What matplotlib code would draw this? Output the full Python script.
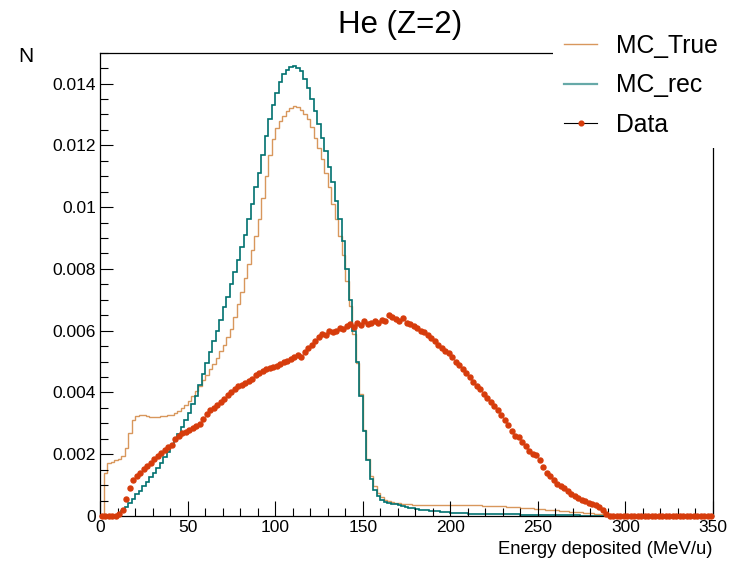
import numpy as np
import matplotlib
matplotlib.use("Agg")
import matplotlib.pyplot as plt
from matplotlib.lines import Line2D
from matplotlib.ticker import MultipleLocator

plt.rcParams["font.family"] = ["Liberation Sans", "DejaVu Sans"]

# ---- data (2 MeV/u bins from 0 to 350, values in units of 1e-3) ----
bin_edges = np.arange(0, 352, 2)

mc_true_e3 = [
    0.0, 1.4, 1.7, 1.75, 1.8,
    1.85, 1.95, 2.2, 2.7, 3.1,
    3.25, 3.28, 3.27, 3.25, 3.22,
    3.2, 3.22, 3.24, 3.25, 3.27,
    3.27, 3.33, 3.4, 3.5, 3.6,
    3.72, 3.88, 4.05, 4.22, 4.4,
    4.58, 4.75, 4.93, 5.12, 5.33,
    5.55, 5.78, 6.05, 6.45, 6.85,
    7.25, 7.7, 8.15, 8.6, 9.05,
    9.6, 10.3, 11.0, 11.7, 12.2,
    12.55, 12.8, 12.95, 13.1, 13.2,
    13.28, 13.25, 13.15, 13.0, 12.85,
    12.6, 12.25, 11.9, 11.55, 11.1,
    10.65, 10.1, 9.6, 9.05, 8.45,
    7.6, 6.8, 5.9, 4.95, 3.95,
    2.8, 1.85, 1.3, 0.98, 0.76,
    0.62, 0.52, 0.47, 0.44, 0.42,
    0.41, 0.40, 0.39, 0.38, 0.37,
    0.36, 0.35, 0.35, 0.35, 0.35,
    0.35, 0.36, 0.36, 0.37, 0.37,
    0.37, 0.37, 0.37, 0.37, 0.37,
    0.36, 0.36, 0.35, 0.35, 0.34,
    0.34, 0.33, 0.33, 0.32, 0.32,
    0.31, 0.30, 0.30, 0.29, 0.28,
    0.27, 0.27, 0.26, 0.25, 0.24,
    0.23, 0.22, 0.21, 0.20, 0.19,
    0.18, 0.17, 0.16, 0.15, 0.14,
    0.13, 0.12, 0.12, 0.11, 0.10,
    0.09, 0.08, 0.07, 0.06, 0.04,
] + [0.0] * 30

mc_rec_e3 = [
    0.0, 0.0, 0.0, 0.0, 0.0,
    0.05, 0.15, 0.28, 0.42, 0.55,
    0.7, 0.82, 0.96, 1.1, 1.25,
    1.4, 1.55, 1.72, 1.9, 2.08,
    2.25, 2.45, 2.65, 2.88, 3.1,
    3.35, 3.62, 3.9, 4.25, 4.6,
    4.95, 5.3, 5.65, 6.0, 6.35,
    6.75, 7.1, 7.5, 7.9, 8.3,
    8.7, 9.1, 9.6, 10.1, 10.65,
    11.1, 11.7, 12.3, 12.85, 13.3,
    13.7, 14.05, 14.3, 14.45, 14.55,
    14.58, 14.5, 14.4, 14.15, 13.85,
    13.5, 13.1, 12.7, 12.25, 11.8,
    11.3, 10.8, 10.2, 9.6, 8.9,
    8.0, 7.0, 6.0, 5.0, 3.9,
    2.75, 1.8, 1.2, 0.85, 0.65,
    0.52, 0.45, 0.42, 0.40, 0.38,
    0.36, 0.33, 0.30, 0.27, 0.25,
    0.23, 0.21, 0.20, 0.18, 0.17,
    0.16, 0.15, 0.14, 0.13, 0.12,
    0.11, 0.10, 0.10, 0.09, 0.09,
    0.08, 0.08, 0.07, 0.07, 0.07,
    0.06, 0.06, 0.06, 0.06, 0.05,
    0.05, 0.05, 0.05, 0.05, 0.05,
    0.04, 0.04, 0.04, 0.04, 0.04,
    0.04, 0.03, 0.03, 0.03, 0.03,
    0.03, 0.02, 0.02, 0.02, 0.02,
    0.02, 0.02, 0.01, 0.01, 0.01,
    0.01, 0.01, 0.01, 0.01, 0.0,
] + [0.0] * 30

data_e3 = [
    0.0, 0.0, 0.0, 0.0, 0.0,
    0.05, 0.2, 0.55, 0.9, 1.15,
    1.3, 1.4, 1.52, 1.62, 1.72,
    1.85, 1.95, 2.05, 2.15, 2.22,
    2.3, 2.5, 2.6, 2.68, 2.72,
    2.78, 2.85, 2.9, 2.97, 3.15,
    3.3, 3.42, 3.5, 3.6, 3.7,
    3.78, 3.92, 4.0, 4.1, 4.2,
    4.25, 4.3, 4.38, 4.45, 4.55,
    4.62, 4.7, 4.75, 4.8, 4.83,
    4.86, 4.92, 4.97, 5.02, 5.08,
    5.15, 5.2, 5.15, 5.32, 5.45,
    5.55, 5.65, 5.8, 5.9, 5.85,
    6.0, 5.95, 5.98, 6.1, 6.05,
    6.15, 6.2, 6.12, 6.25, 6.18,
    6.3, 6.22, 6.25, 6.3, 6.25,
    6.35, 6.3, 6.5, 6.45, 6.38,
    6.3, 6.4, 6.25, 6.2, 6.15,
    6.1, 6.0, 5.95, 5.85, 5.75,
    5.65, 5.55, 5.45, 5.35, 5.28,
    5.15, 5.0, 4.9, 4.75, 4.62,
    4.5, 4.35, 4.22, 4.1, 3.95,
    3.82, 3.7, 3.55, 3.42, 3.28,
    3.1, 2.95, 2.75, 2.6, 2.55,
    2.4, 2.25, 2.12, 2.0, 1.98,
    1.8, 1.6, 1.4, 1.28, 1.18,
    1.05, 0.98, 0.9, 0.8, 0.72,
    0.65, 0.58, 0.52, 0.48, 0.42,
    0.38, 0.35, 0.3, 0.18, 0.05,
] + [0.0] * 30

C_TRUE = "#d8975c"
C_REC = "#00716f"
C_DATA = "#d63c0c"

# ---- plotting ----
fig = plt.figure(figsize=(7.3, 5.61), dpi=100)
ax = fig.add_axes([0.137, 0.0802, 0.8397, 0.826])

scale = 1e-3
ax.stairs(np.array(mc_true_e3) * scale, bin_edges, color=C_TRUE, lw=1.0)
ax.stairs(np.array(mc_rec_e3) * scale, bin_edges, color=C_REC, lw=1.2)
centers = 0.5 * (bin_edges[:-1] + bin_edges[1:])
ax.plot(centers, np.array(data_e3) * scale, "o", ms=3.6, color=C_DATA,
        mec=C_DATA, clip_on=False, zorder=5)

ax.set_xlim(0, 350)
ax.set_ylim(0, 0.015)
ax.xaxis.set_major_locator(MultipleLocator(50))
ax.xaxis.set_minor_locator(MultipleLocator(10))
ax.yaxis.set_major_locator(MultipleLocator(0.002))
ax.yaxis.set_minor_locator(MultipleLocator(0.0005))
ax.yaxis.set_major_formatter(plt.FuncFormatter(lambda v, p: "0" if v == 0 else f"{v:g}"))
ax.tick_params(axis="both", which="both", direction="in", top=False, right=False,
               labelsize=12.5, width=0.8)
ax.tick_params(axis="x", which="major", length=11, pad=3)
ax.tick_params(axis="x", which="minor", length=5.5)
ax.tick_params(axis="y", which="major", length=9, pad=3)
ax.tick_params(axis="y", which="minor", length=5.5)
for s in ax.spines.values():
    s.set_linewidth(0.9)

ax.set_xlabel("Energy deposited (MeV/u)", fontsize=13.3, loc="right", labelpad=4)
fig.text(18 / 730, 1 - 62 / 561, "N", fontsize=15, ha="left", va="baseline")
fig.text(400 / 730, 1 - 33 / 561, "He (Z=2)", fontsize=22.5, ha="center", va="baseline")

handles = [
    Line2D([], [], color=C_TRUE, lw=1.0),
    Line2D([], [], color=C_REC, lw=1.6, alpha=0.6),
    Line2D([], [], color="black", lw=0.8, marker="o", ms=3.4, mfc=C_DATA, mec=C_DATA),
]
leg = fig.legend(handles, ["MC_True", "MC_rec", "Data"], loc="upper left",
                 bbox_to_anchor=(553 / 730, 1 - 23 / 561), fontsize=17.8,
                 frameon=True, facecolor="white", edgecolor="none", framealpha=1,
                 fancybox=False, handlelength=1.34, handletextpad=0.76,
                 labelspacing=0.62, borderpad=0.45, borderaxespad=0)
leg.set_zorder(10)

fig.savefig("out.png", dpi=100)
